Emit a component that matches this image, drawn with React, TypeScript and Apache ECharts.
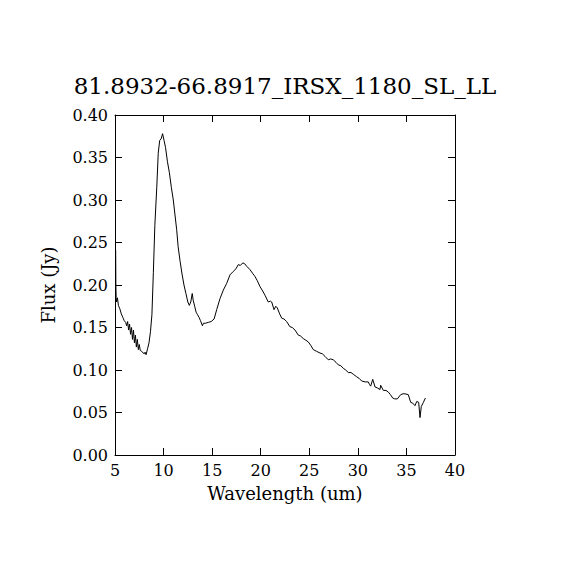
import React, { useEffect, useRef } from "react";
import * as echarts from "echarts";

const TITLE = "81.8932-66.8917_IRSX_1180_SL_LL";
const X_NAME = "Wavelength (um)";
const Y_NAME = "Flux (Jy)";

const wavelength = [
  5.07, 5.09, 5.12, 5.16, 5.25, 5.35, 5.5, 5.65, 5.8, 5.95, 6.1, 6.2, 6.3, 6.4, 6.5, 6.6, 6.7, 6.8, 6.9, 7.0,
  7.1, 7.2, 7.3, 7.4, 7.5, 7.6, 7.75, 7.9, 8.0, 8.1, 8.2, 8.35, 8.5, 8.65, 8.8, 8.95, 9.1, 9.3, 9.45, 9.6,
  9.75, 9.9, 10.05, 10.2, 10.4, 10.6, 10.8, 11.0, 11.2, 11.35, 11.5, 11.7, 11.9, 12.1, 12.3, 12.5, 12.65, 12.8, 12.95, 13.05,
  13.2, 13.35, 13.5, 13.65, 13.8, 14.0, 14.1, 14.3, 14.6, 14.9, 15.2, 15.47, 15.81, 16.15, 16.5, 16.84, 17.18, 17.45, 17.69, 17.9,
  18.15, 18.35, 18.56, 18.9, 19.15, 19.41, 19.65, 19.93, 20.2, 20.44, 20.78, 21.0, 21.13, 21.37, 21.55, 21.71, 21.95, 22.16, 22.4, 22.67,
  23.0, 23.25, 23.53, 23.87, 24.1, 24.38, 24.65, 24.9, 25.15, 25.41, 25.75, 26.1, 26.35, 26.62, 26.96, 27.2, 27.47, 27.75, 27.99, 28.25,
  28.5, 28.75, 29.02, 29.3, 29.53, 29.88, 30.15, 30.4, 30.75, 31.07, 31.2, 31.32, 31.53, 31.77, 32.0, 32.28, 32.35, 32.62, 32.9, 33.14,
  33.35, 33.59, 33.8, 34.06, 34.41, 34.65, 34.85, 35.19, 35.44, 35.65, 35.88, 36.06, 36.26, 36.4, 36.53, 36.75, 36.95,
];

const flux = [
  0.241, 0.2, 0.185, 0.18, 0.185, 0.176, 0.172, 0.166, 0.162, 0.158, 0.156, 0.152, 0.157, 0.147, 0.154, 0.142, 0.15, 0.136, 0.147, 0.132,
  0.141, 0.127, 0.136, 0.124, 0.13, 0.123, 0.122, 0.12, 0.119, 0.121, 0.118, 0.125, 0.132, 0.145, 0.165, 0.215, 0.27, 0.315, 0.355, 0.37,
  0.372, 0.378, 0.37, 0.362, 0.345, 0.332, 0.315, 0.3, 0.28, 0.265, 0.245, 0.228, 0.213, 0.2, 0.19, 0.18, 0.176, 0.18, 0.19, 0.182,
  0.175, 0.168, 0.165, 0.162, 0.158, 0.152, 0.155, 0.155, 0.156, 0.157, 0.16, 0.171, 0.184, 0.194, 0.202, 0.212, 0.216, 0.219, 0.224, 0.223,
  0.226, 0.225, 0.222, 0.218, 0.214, 0.21, 0.205, 0.198, 0.193, 0.188, 0.18, 0.181, 0.18, 0.171, 0.175, 0.173, 0.166, 0.161, 0.16, 0.157,
  0.151, 0.15, 0.147, 0.141, 0.14, 0.137, 0.135, 0.133, 0.129, 0.124, 0.122, 0.12, 0.119, 0.116, 0.112, 0.113, 0.112, 0.109, 0.106, 0.105,
  0.102, 0.1, 0.097, 0.097, 0.095, 0.092, 0.09, 0.087, 0.086, 0.086, 0.083, 0.081, 0.089, 0.08, 0.079, 0.077, 0.082, 0.076, 0.076, 0.074,
  0.071, 0.067, 0.066, 0.066, 0.071, 0.072, 0.072, 0.071, 0.062, 0.061, 0.058, 0.063, 0.062, 0.044, 0.057, 0.062, 0.067,
];

const X_MIN = 5;
const X_MAX = 40;
const X_STEP = 5;
const Y_MIN = 0;
const Y_MAX = 0.4;
const Y_STEP = 0.05;

const FONT = "'DejaVu Serif', 'Liberation Serif', serif";

export default function App() {
  const ref = useRef<HTMLDivElement>(null);
  useEffect(() => {
    if (!ref.current) return;
    const chart = echarts.init(ref.current, undefined, { renderer: "svg" });
    const data = wavelength.map((w, i) => [w, flux[i]]);
    const axisLine = { show: true, onZero: false, lineStyle: { color: "#000", width: 1 } };
    const axisTick = { show: true, inside: true, length: 7, lineStyle: { color: "#000", width: 1 } };
    chart.setOption({
      animation: false,
      backgroundColor: "#fff",
      title: {
        text: TITLE,
        left: "center",
        top: 69,
        textStyle: { fontFamily: FONT, fontWeight: "normal", fontSize: 23, color: "#000" },
      },
      grid: { left: 115, top: 115, width: 340, height: 340 },
      xAxis: [
        {
          type: "value",
          min: X_MIN,
          max: X_MAX,
          interval: X_STEP,
          position: "bottom",
          name: X_NAME,
          nameLocation: "middle",
          nameGap: 29,
          nameTextStyle: { fontFamily: FONT, fontSize: 18, color: "#000" },
          axisLine,
          axisTick,
          splitLine: { show: false },
          axisLabel: { fontFamily: FONT, fontSize: 16, color: "#000", margin: 7 },
        },
        {
          type: "value",
          min: X_MIN,
          max: X_MAX,
          interval: X_STEP,
          position: "top",
          axisLine,
          axisTick,
          splitLine: { show: false },
          axisLabel: { show: false },
        },
      ],
      yAxis: [
        {
          type: "value",
          min: Y_MIN,
          max: Y_MAX,
          interval: Y_STEP,
          position: "left",
          name: Y_NAME,
          nameLocation: "middle",
          nameGap: 58,
          nameRotate: 90,
          nameTextStyle: { fontFamily: FONT, fontSize: 18, color: "#000" },
          axisLine,
          axisTick,
          splitLine: { show: false },
          axisLabel: {
            fontFamily: FONT,
            fontSize: 16,
            color: "#000",
            margin: 7,
            formatter: (v: number) => v.toFixed(2),
          },
        },
        {
          type: "value",
          min: Y_MIN,
          max: Y_MAX,
          interval: Y_STEP,
          position: "right",
          axisLine,
          axisTick,
          splitLine: { show: false },
          axisLabel: { show: false },
        },
      ],
      series: [
        {
          type: "line",
          data,
          xAxisIndex: 0,
          yAxisIndex: 0,
          showSymbol: false,
          symbol: "none",
          lineStyle: { color: "#000", width: 1 },
        },
      ],
    });
    return () => chart.dispose();
  }, []);
  return (
    <div
      ref={ref}
      style={{ position: "fixed", left: 0, top: 0, width: 570, height: 570, background: "#fff" }}
    />
  );
}
